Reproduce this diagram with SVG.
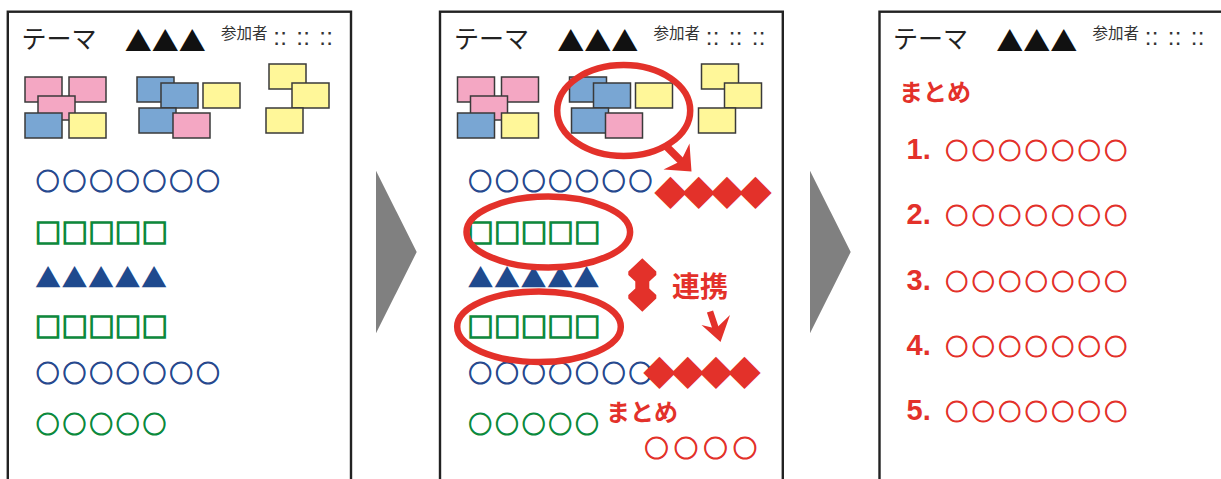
<svg xmlns="http://www.w3.org/2000/svg" width="1221" height="479" viewBox="0 0 1221 479">
<style>
.frame{fill:#fff;stroke:#222;stroke-width:2.4}
.hd{font-family:"Noto Sans CJK JP","Noto Sans",sans-serif;font-size:25px;fill:#222}
.tri{font-family:"Noto Sans CJK JP",sans-serif;font-size:27px;fill:#111;dominant-baseline:central}
.sanka{font-family:"Noto Sans CJK JP",sans-serif;font-size:15.5px;fill:#333}
.dots{font-family:"Liberation Sans",sans-serif;font-size:24px;fill:#333}
.note{stroke:#3a3a3a;stroke-width:1.5}
.pk{fill:#f4a7c3}.bl{fill:#79a6d3}.yl{fill:#fff799}
.shp{font-family:"Noto Sans CJK JP",sans-serif;font-size:26px;dominant-baseline:central;stroke-width:0.9}
.circ{font-size:23.4px;letter-spacing:3.3px;stroke-width:1.1}
.cb{fill:#27498e;stroke:#27498e}
.sg{fill:#0c8a3d;stroke:#0c8a3d;stroke-width:1.6;letter-spacing:0.7px}
.tb{fill:#1f4a8e;stroke:none;letter-spacing:0.5px}
.cg{fill:#0c8a3d;stroke:#0c8a3d}
.red{fill:#e3312a}
.rs{fill:#e3312a;stroke:#e3312a}
.dia{font-size:33px;letter-spacing:-4.7px;stroke-width:0}
.ell{fill:none;stroke:#e3312a;stroke-width:6.5}
.rt{font-family:"Noto Sans CJK JP",sans-serif;font-weight:bold;fill:#e3312a}
.num{font-family:"Liberation Sans",sans-serif;font-weight:bold;font-size:29px;fill:#e3312a}
.rc{font-size:22.5px;letter-spacing:4px;stroke-width:1.1}
.gray{fill:#808080}
</style>

<g id="panel1">
  <rect class="frame" x="7.8" y="11.7" width="343.2" height="480"/>
  <g id="header1">
    <text class="hd" x="21.5" y="48">テーマ</text>
    <text class="tri" x="124.8" y="40">▲▲▲</text>
    <text class="sanka" x="221" y="38.5">参加者</text>
    <text class="dots" x="273.2 280.2 296.2 303.2 319.2 326.2" y="45">::::::</text>
  </g>
  <g id="notes1">
    <rect class="note pk" x="25" y="77" width="37" height="25"/>
    <rect class="note pk" x="69" y="77" width="37" height="25"/>
    <rect class="note pk" x="38" y="96" width="37" height="24"/>
    <rect class="note bl" x="25" y="113" width="37" height="25"/>
    <rect class="note yl" x="69" y="113" width="37" height="25"/>
    <rect class="note bl" x="137" y="77" width="37" height="25"/>
    <rect class="note bl" x="161" y="83" width="37" height="25"/>
    <rect class="note yl" x="203" y="83" width="37" height="25"/>
    <rect class="note bl" x="139" y="108" width="37" height="25"/>
    <rect class="note pk" x="173" y="113" width="37" height="25"/>
    <rect class="note yl" x="269" y="64" width="37" height="25"/>
    <rect class="note yl" x="292" y="83" width="37" height="25"/>
    <rect class="note yl" x="266" y="108" width="37" height="25"/>
  </g>
  <g id="rows1">
    <text class="shp circ cb" x="36" y="180">○○○○○○○</text>
    <text class="shp sg" x="35" y="231">□□□□□</text>
    <text class="shp tb" x="35" y="276">▲▲▲▲▲</text>
    <text class="shp sg" x="35" y="325">□□□□□</text>
    <text class="shp circ cb" x="36" y="372">○○○○○○○</text>
    <text class="shp circ cg" x="36" y="423">○○○○○</text>
  </g>
</g>

<g id="panel2">
  <rect class="frame" x="440" y="11.7" width="342.8" height="480"/>
  <g id="header2" transform="translate(432.5,0)">
    <text class="hd" x="21.5" y="48">テーマ</text>
    <text class="tri" x="124.8" y="40">▲▲▲</text>
    <text class="sanka" x="221" y="38.5">参加者</text>
    <text class="dots" x="273.2 280.2 296.2 303.2 319.2 326.2" y="45">::::::</text>
  </g>
  <g id="notes2" transform="translate(432.5,0)">
    <rect class="note pk" x="25" y="77" width="37" height="25"/>
    <rect class="note pk" x="69" y="77" width="37" height="25"/>
    <rect class="note pk" x="38" y="96" width="37" height="24"/>
    <rect class="note bl" x="25" y="113" width="37" height="25"/>
    <rect class="note yl" x="69" y="113" width="37" height="25"/>
    <rect class="note bl" x="137" y="77" width="37" height="25"/>
    <rect class="note bl" x="161" y="83" width="37" height="25"/>
    <rect class="note yl" x="203" y="83" width="37" height="25"/>
    <rect class="note bl" x="139" y="108" width="37" height="25"/>
    <rect class="note pk" x="173" y="113" width="37" height="25"/>
    <rect class="note yl" x="269" y="64" width="37" height="25"/>
    <rect class="note yl" x="292" y="83" width="37" height="25"/>
    <rect class="note yl" x="266" y="108" width="37" height="25"/>
  </g>
  <g id="rows2" transform="translate(432.5,0)">
    <text class="shp circ cb" x="36" y="180">○○○○○○○</text>
    <text class="shp sg" x="35" y="231">□□□□□</text>
    <text class="shp tb" x="35" y="276">▲▲▲▲▲</text>
    <text class="shp sg" x="35" y="325">□□□□□</text>
    <text class="shp circ cb" x="36" y="372">○○○○○○○</text>
    <text class="shp circ cg" x="36" y="423">○○○○○</text>
  </g>
  <g id="annotations2">
    <ellipse class="ell" cx="623.7" cy="110.5" rx="66.5" ry="45.5"/>
    <ellipse class="ell" cx="548.3" cy="232" rx="81.8" ry="35.5"/>
    <ellipse class="ell" cx="539" cy="326.7" rx="81.8" ry="35.3"/>
    <text class="shp rs dia" x="654" y="191">◆◆◆◆</text>
    <text class="shp rs dia" x="643" y="371">◆◆◆◆</text>
    <text class="rt" x="672" y="297" font-size="28">連携</text>
    <text class="rt" x="606" y="421" font-size="24">まとめ</text>
    <text class="shp rs" x="644.5" y="446.7" style="font-size:24px;letter-spacing:5.5px;stroke-width:1.1">○○○○</text>
  </g>
</g>

<g id="connectors">
  <g id="arrow-ellipse">
    <line x1="666" y1="146" x2="683" y2="163" stroke="#e3312a" stroke-width="7.5"/>
    <polygon class="red" points="691.5,171.5 689.5,143.5 681,161 663.5,169.5"/>
  </g>
  <g id="arrow-link">
    <line x1="710" y1="311.5" x2="716.5" y2="331" stroke="#e3312a" stroke-width="6.5"/>
    <polygon class="red" points="720.5,342 730,315 716,328.5 701.5,325"/>
  </g>
  <polygon id="double-arrow" class="red" points="642.3,258.3 656.3,271.5 656.3,275 649.3,281.5 649.3,288.5 656.3,295 656.3,298.5 642.3,311.7 628.3,298.5 628.3,295 635.3,288.5 635.3,281.5 628.3,275 628.3,271.5"/>
  <polygon id="step-arrow-1" class="gray" points="376,170.7 416.7,252 376,333.3"/>
  <polygon id="step-arrow-2" class="gray" points="810,170.7 850.7,252 810,333.3"/>
</g>

<g id="panel3">
  <rect class="frame" x="879.5" y="11.7" width="360" height="480"/>
  <g id="header3" transform="translate(871.5,0)">
    <text class="hd" x="21.5" y="48">テーマ</text>
    <text class="tri" x="124.8" y="40">▲▲▲</text>
    <text class="sanka" x="221" y="38.5">参加者</text>
    <text class="dots" x="273.2 280.2 296.2 303.2 319.2 326.2" y="45">::::::</text>
  </g>
  <g id="summary">
    <text class="rt" x="899" y="101" font-size="24">まとめ</text>
    <text y="149"><tspan class="num" x="906.5" dy="10.3">1.</tspan><tspan class="shp rs rc" x="945.5" dy="-10.3">○○○○○○○</tspan></text>
    <text y="213.7"><tspan class="num" x="906.5" dy="10.3">2.</tspan><tspan class="shp rs rc" x="945.5" dy="-10.3">○○○○○○○</tspan></text>
    <text y="280"><tspan class="num" x="906.5" dy="10.3">3.</tspan><tspan class="shp rs rc" x="945.5" dy="-10.3">○○○○○○○</tspan></text>
    <text y="345"><tspan class="num" x="906.5" dy="10.3">4.</tspan><tspan class="shp rs rc" x="945.5" dy="-10.3">○○○○○○○</tspan></text>
    <text y="410"><tspan class="num" x="906.5" dy="10.3">5.</tspan><tspan class="shp rs rc" x="945.5" dy="-10.3">○○○○○○○</tspan></text>
  </g>
</g>
</svg>
